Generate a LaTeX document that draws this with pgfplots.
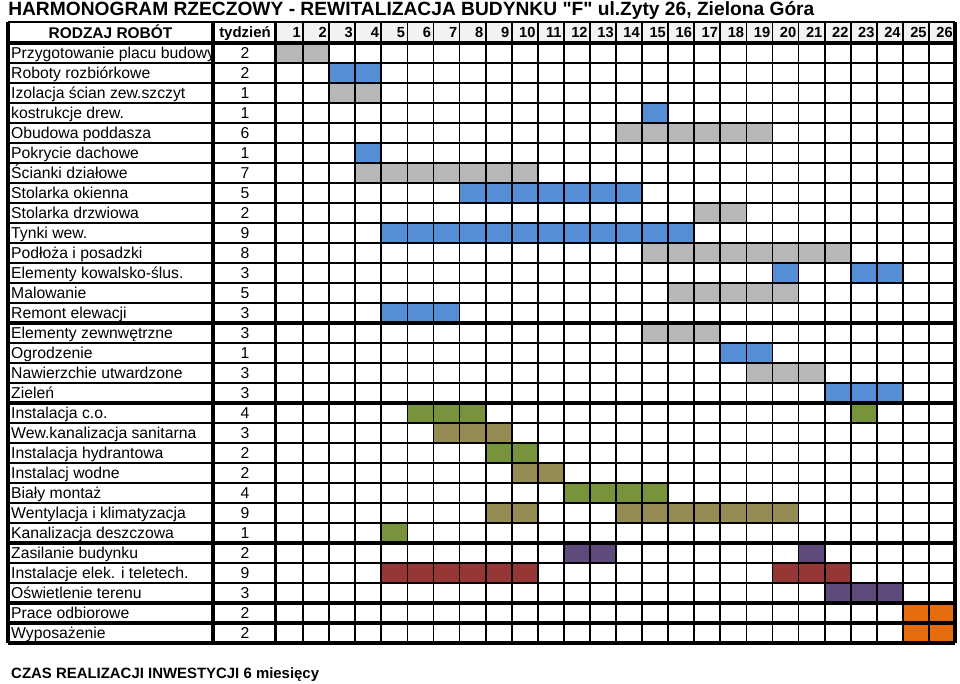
\documentclass[border=0pt]{standalone}
\usepackage{pgfplots}
\pgfplotsset{compat=1.18}
\usepackage{fontspec}
\setmainfont{Liberation Sans}[Ligatures=TeXOff]

\definecolor{cgray}{HTML}{B7B7B7}
\definecolor{cblue}{HTML}{558ED5}
\definecolor{cgreen}{HTML}{77933C}
\definecolor{colive}{HTML}{948A54}
\definecolor{cpurple}{HTML}{604A7B}
\definecolor{cred}{HTML}{953735}
\definecolor{corange}{HTML}{E46C0A}
\definecolor{chead}{HTML}{F2F2F2}

% one week x one task cell
\pgfdeclareplotmark{cell}{%
  \pgfpathrectangle{\pgfpoint{-9.9pt}{-7.65pt}}{\pgfpoint{19.8pt}{15.3pt}}%
  \pgfusepathqfill}

\tikzset{
  thinl/.style={line width=1.3pt, black},
  thickl/.style={line width=2.4pt, black},
  lab/.style={anchor=west, inner sep=0pt, text height=8.4pt, text depth=0pt,
    font=\fontsize{11.8}{13}\selectfont},
  dur/.style={anchor=center, inner sep=0pt, text height=8.4pt, text depth=0pt,
    font=\fontsize{11.8}{13}\selectfont},
}
\newcommand{\task}[3]{%
  \node[lab] at (axis cs:-9.70,#1) {#2};
  \node[dur] at (axis cs:-0.727,#1) {#3};}

\begin{document}
\begin{tikzpicture}
\begin{axis}[
  scale only axis, width=720pt, height=513pt,
  xmin=-10.121, xmax=26.689,
  ymin=-1.65, ymax=32.55,
  y dir=reverse,
  hide axis, clip=false,
  set layers=standard,
]
\fill[chead] (axis cs:0.5,-0.55) rectangle (axis cs:26.5,0.5);

% filled weeks
\addplot[only marks, mark=cell, color=cgray] coordinates {
  (1,1) (2,1) (3,3) (4,3)
  (14,5) (15,5) (16,5) (17,5) (18,5) (19,5)
  (4,7) (5,7) (6,7) (7,7) (8,7) (9,7) (10,7)
  (17,9) (18,9)
  (15,11) (16,11) (17,11) (18,11) (19,11) (20,11) (21,11) (22,11)
  (16,13) (17,13) (18,13) (19,13) (20,13)
  (15,15) (16,15) (17,15)
  (19,17) (20,17) (21,17)
};
\addplot[only marks, mark=cell, color=cblue] coordinates {
  (3,2) (4,2) (15,4) (4,6)
  (8,8) (9,8) (10,8) (11,8) (12,8) (13,8) (14,8)
  (5,10) (6,10) (7,10) (8,10) (9,10) (10,10) (11,10) (12,10) (13,10) (14,10) (15,10) (16,10)
  (20,12) (23,12) (24,12)
  (5,14) (6,14) (7,14)
  (18,16) (19,16)
  (22,18) (23,18) (24,18)
};
\addplot[only marks, mark=cell, color=cgreen] coordinates {
  (6,19) (7,19) (8,19) (23,19)
  (9,21) (10,21)
  (12,23) (13,23) (14,23) (15,23)
  (5,25)
};
\addplot[only marks, mark=cell, color=colive] coordinates {
  (7,20) (8,20) (9,20)
  (10,22) (11,22)
  (9,24) (10,24) (14,24) (15,24) (16,24) (17,24) (18,24) (19,24) (20,24)
};
\addplot[only marks, mark=cell, color=cpurple] coordinates {
  (12,26) (13,26) (21,26)
  (22,28) (23,28) (24,28)
};
\addplot[only marks, mark=cell, color=cred] coordinates {
  (5,27) (6,27) (7,27) (8,27) (9,27) (10,27) (20,27) (21,27) (22,27)
};
\addplot[only marks, mark=cell, color=corange] coordinates {
  (25,29) (26,29) (25,30) (26,30)
};

% grid, above the cells
\begin{pgfonlayer}{axis foreground}
\pgfplotsinvokeforeach{1,...,25}{
  \draw[thinl] (axis cs:{#1+0.5},-0.55) -- (axis cs:{#1+0.5},30.5);}
\pgfplotsinvokeforeach{1,...,13,15,16,17,19,20,21,22,23,24,26,27}{
  \draw[thinl] (axis cs:-9.814,{#1+0.5}) -- (axis cs:26.5,{#1+0.5});}
\pgfplotsinvokeforeach{14,18,25,28,29}{
  \draw[thickl] (axis cs:-9.814,{#1+0.5}) -- (axis cs:26.5,{#1+0.5});}
\draw[thinl] (axis cs:-9.814,-0.55) -- (axis cs:26.5,-0.55);
\draw[thickl] (axis cs:-9.814,0.5) -- (axis cs:26.5,0.5);
\draw[thickl] (axis cs:-9.814,30.5) -- (axis cs:26.5,30.5);
\pgfplotsinvokeforeach{-9.814,-1.954,0.45,26.5}{
  \draw[thickl] (axis cs:#1,-0.55) -- (axis cs:#1,30.5);}
\end{pgfonlayer}

% header
\node[anchor=base west, inner sep=0pt, font=\bfseries\fontsize{14.4}{16}\selectfont]
  at (axis cs:-9.814,-0.85) {HARMONOGRAM RZECZOWY - REWITALIZACJA BUDYNKU "F" ul.Zyty 26, Zielona Góra};
\node[dur, font=\bfseries\fontsize{11.6}{13}\selectfont, text height=8.3pt]
  at (axis cs:-5.884,-0.025) {RODZAJ ROBÓT};
\node[dur, font=\bfseries\fontsize{11.2}{13}\selectfont, text height=8pt]
  at (axis cs:-0.727,-0.025) {tydzień};
\pgfplotsinvokeforeach{1,...,26}{
  \node[anchor=east, inner sep=0pt, text height=7.9pt, text depth=0pt,
    font=\bfseries\fontsize{11}{12}\selectfont]
    at (axis cs:{#1+0.42},-0.025) {#1};}

% tasks
\begin{scope}
\clip (axis cs:-9.814,0.5) rectangle (axis cs:-2.0,1.5);
\node[lab] at (axis cs:-9.70,1) {Przygotowanie placu budowy};
\end{scope}
\node[dur] at (axis cs:-0.727,1) {2};
\task{2}{Roboty rozbiórkowe}{2}
\task{3}{Izolacja ścian zew.szczyt}{1}
\task{4}{kostrukcje drew.}{1}
\task{5}{Obudowa poddasza}{6}
\task{6}{Pokrycie dachowe}{1}
\task{7}{Ścianki działowe}{7}
\task{8}{Stolarka okienna}{5}
\task{9}{Stolarka drzwiowa}{2}
\task{10}{Tynki wew.}{9}
\task{11}{Podłoża i posadzki}{8}
\task{12}{Elementy kowalsko-ślus.}{3}
\task{13}{Malowanie}{5}
\task{14}{Remont elewacji}{3}
\task{15}{Elementy zewnwętrzne}{3}
\task{16}{Ogrodzenie}{1}
\task{17}{Nawierzchie utwardzone}{3}
\task{18}{Zieleń}{3}
\task{19}{Instalacja c.o.}{4}
\task{20}{Wew.kanalizacja sanitarna}{3}
\task{21}{Instalacja hydrantowa}{2}
\task{22}{Instalacj wodne}{2}
\task{23}{Biały montaż}{4}
\task{24}{Wentylacja i klimatyzacja}{9}
\task{25}{Kanalizacja deszczowa}{1}
\task{26}{Zasilanie budynku}{2}
\task{27}{Instalacje elek. i teletech.}{9}
\task{28}{Oświetlenie terenu}{3}
\task{29}{Prace odbiorowe}{2}
\task{30}{Wyposażenie}{2}

\node[anchor=base west, inner sep=0pt, font=\bfseries\fontsize{11.2}{13}\selectfont]
  at (axis cs:-9.70,32.3) {CZAS REALIZACJI INWESTYCJI 6 miesięcy};
\end{axis}
\pgfresetboundingbox
\path[use as bounding box] (current axis.south west) rectangle (current axis.north east);
\end{tikzpicture}
\end{document}
